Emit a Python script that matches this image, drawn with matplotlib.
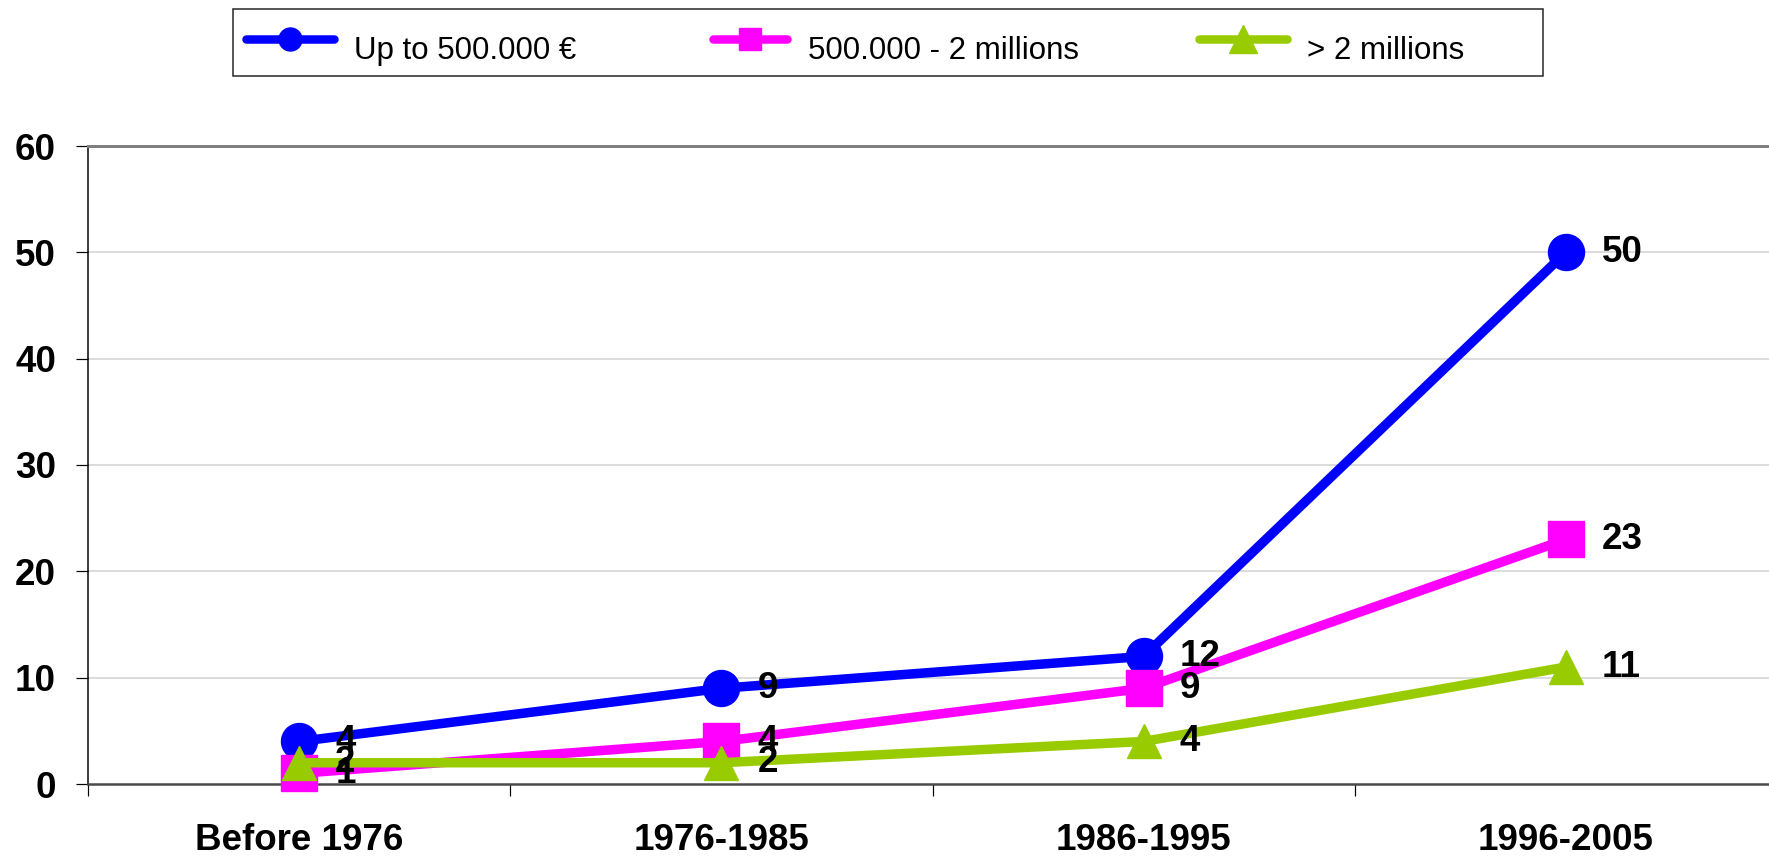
import matplotlib
matplotlib.use("Agg")
import numpy as np
import matplotlib.pyplot as plt
from matplotlib.lines import Line2D
from matplotlib.patches import Rectangle
from matplotlib.legend_handler import HandlerLine2D

# ---- data ----
categories = ["Before 1976", "1976-1985", "1986-1995", "1996-2005"]
series_names = ["Up to 500.000 €", "500.000 - 2 millions", "> 2 millions"]
up_to_500k = [4, 9, 12, 50]
mid_500k_2m = [1, 4, 9, 23]
over_2m = [2, 2, 4, 11]
y_ticks = [0, 10, 20, 30, 40, 50, 60]

DPI = 100
W, H = 1769, 856
def pt(px):
    return px * 72.0 / DPI

FS = 26.5
plt.rcParams['font.family'] = ['Liberation Sans', 'DejaVu Sans']

fig = plt.figure(figsize=(W / DPI, H / DPI), dpi=DPI)
fig.patch.set_facecolor('white')

# axes placement (pixels: left 88, top 146, bottom 784, right 1777)
ax = fig.add_axes([88 / W, (H - 784) / H, (1777 - 88) / W, (784 - 146) / H])

x = list(range(len(categories)))
colors = ['#0000FF', '#FF00FF', '#99CC00']
markers = ['o', 's', '^']
msizes = [pt(36), pt(36), pt(34)]
series = [up_to_500k, mid_500k_2m, over_2m]
for i, (vals, col, mk, ms) in enumerate(zip(series, colors, markers, msizes)):
    ax.plot(x, vals, color=col, lw=pt(9.5), marker=mk, markersize=ms,
            markerfacecolor=col, markeredgecolor=col, zorder=3 + i,
            solid_capstyle='round', clip_on=False)
    for xi, v in zip(x, vals):
        ax.annotate(str(v), (xi, v), xytext=(pt(36), 0), textcoords='offset points',
                    ha='left', va='center', fontsize=FS, fontweight='bold',
                    color='black', zorder=10, annotation_clip=False)

ax.set_xlim(-0.5, len(categories) - 0.5)
ax.set_ylim(0, 60)

# grid & spines
ax.set_yticks(y_ticks)
ax.set_yticklabels([str(t) for t in y_ticks])
for t in y_ticks[1:-1]:
    ax.axhline(t, color='#D4D4D4', lw=pt(1.6), zorder=1)
ax.spines['top'].set_color('#808080')
ax.spines['top'].set_linewidth(pt(3))
ax.spines['right'].set_visible(False)
ax.spines['left'].set_color('black')
ax.spines['left'].set_linewidth(pt(1.5))
ax.spines['bottom'].set_color('#4a4a4a')
ax.spines['bottom'].set_linewidth(pt(2.5))

ax.set_xticks(x)
ax.set_xticklabels(categories)
ax.set_xticks([i - 0.5 for i in range(len(categories) + 1)], minor=True)
ax.tick_params(axis='x', which='major', length=0, pad=pt(39), labelsize=FS)
ax.tick_params(axis='x', which='minor', length=pt(12), width=pt(1.2), color='black',
               direction='out')
ax.tick_params(axis='y', which='major', length=pt(12), width=pt(1.2), color='black',
               direction='out', pad=pt(20), labelsize=FS)
for lab in ax.get_xticklabels() + ax.get_yticklabels():
    lab.set_fontweight('bold')


class RaisedLine(HandlerLine2D):
    """Legend line handle drawn slightly above the text centre."""
    def __init__(self, dy, **kw):
        super().__init__(**kw)
        self.dy = dy

    def create_artists(self, *args, **kwargs):
        arts = super().create_artists(*args, **kwargs)
        for a in arts:
            a.set_ydata(np.asarray(a.get_ydata(), dtype=float) + self.dy)
        return arts


# legend: one entry per legend so each sits where the reference has it
leg_msizes = [pt(23), pt(22), pt(27)]
leg_left_px = [246, 713, 1199]
leg_hlen = [2.8, 2.37, 2.8]
for name, col, mk, ms, lx, hl in zip(series_names, colors, markers, leg_msizes,
                                     leg_left_px, leg_hlen):
    h = Line2D([], [], color=col, lw=pt(8.5), marker=mk, markersize=ms,
               solid_capstyle='round')
    fig.legend([h], [name], loc='center left',
               bbox_to_anchor=(lx / W, 1 - 51 / H), frameon=False,
               prop={'family': 'Liberation Sans', 'size': 22.5},
               handlelength=hl, handletextpad=0.67,
               borderpad=0, borderaxespad=0,
               handler_map={h: RaisedLine(pt(9.5))})
fig.patches.append(Rectangle((233 / W, 1 - 76 / H), (1543 - 233) / W, 67 / H,
                             transform=fig.transFigure, fill=False,
                             edgecolor='#222222', lw=pt(1.5)))

fig.savefig('out.png', dpi=DPI, facecolor='white')
